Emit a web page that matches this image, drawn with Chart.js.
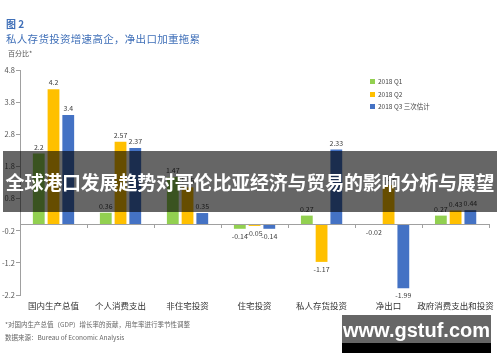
<!DOCTYPE html>
<html>
<head>
<meta charset="utf-8">
<script src="https://cdn.jsdelivr.net/npm/chart.js@4.4.1/dist/chart.umd.min.js"></script>
<style>
  html,body{margin:0;padding:0;background:#fff;}
  #wrap{position:relative;width:500px;height:362px;overflow:hidden;font-family:"Noto Sans CJK SC","Noto Sans",sans-serif;}
  #chart{position:absolute;left:0;top:0;}
  .t1{position:absolute;left:6px;top:16px;font-size:10px;font-weight:bold;color:#3f6fb8;}
  .t2{position:absolute;left:6px;top:31px;font-size:10.5px;color:#3f6fb8;letter-spacing:0.3px;}
  .t3{position:absolute;left:8px;top:48px;font-size:7px;color:#555;}
  .note{position:absolute;left:5px;font-size:6.5px;color:#666;}
  #legend{position:absolute;left:370px;top:75px;font-size:6.5px;color:#444;}
  #legend div{height:12.5px;line-height:12px;white-space:nowrap;}
  #legend span{display:inline-block;width:5px;height:5px;margin-right:3px;vertical-align:0px;}
  #banner{position:absolute;left:3px;top:151px;width:494px;height:61px;background:rgba(0,0,0,0.6);color:#fff;
    font-weight:bold;font-size:19px;line-height:61px;text-align:center;white-space:nowrap;letter-spacing:-0.2px;}
  #wm{position:absolute;left:342px;top:315px;width:149px;height:28px;background:#666;color:#fff;font-family:"Liberation Sans",Arial,sans-serif;
    font-weight:bold;font-size:20px;line-height:31px;text-align:center;white-space:nowrap;}
  #wm2{position:absolute;left:342px;top:343px;width:149px;height:10px;background:#000;}
</style>
</head>
<body>
<div id="wrap">
  <canvas id="chart" width="500" height="362"></canvas>
  <div class="t1">图 2</div>
  <div class="t2">私人存货投资增速高企，净出口加重拖累</div>
  <div class="t3">百分比*</div>
  <div id="legend"></div>
  <div class="note" style="top:319px;">*对国内生产总值（GDP）增长率的贡献，用年率进行季节性调整</div>
  <div class="note" style="top:332px;">数据来源：Bureau of Economic Analysis</div>
  <div id="banner">全球港口发展趋势对哥伦比亚经济与贸易的影响分析与展望</div>
  <div id="wm">www.gstuf.com</div>
  <div id="wm2"></div>
</div>
<script>
const categories = ["国内生产总值","个人消费支出","非住宅投资","住宅投资","私人存货投资","净出口","政府消费支出和投资"];
const seriesNames = ["2018 Q1","2018 Q2","2018 Q3 三次估计"];
const q1 = [2.2, 0.36, 1.47, -0.14, 0.27, -0.02, 0.27];
const q2 = [4.2, 2.57, 1.15, -0.05, -1.17, 1.22, 0.43];
const q3 = [3.4, 2.37, 0.35, -0.14, 2.33, -1.99, 0.44];
const colors = ["#92d050","#ffc000","#4472c4"];
const yTicks = [-2.2, -1.2, -0.2, 0.8, 1.8, 2.8, 3.8, 4.8];

const FONT = '"Noto Sans CJK SC","Noto Sans",sans-serif';

// legend
document.getElementById("legend").innerHTML = seriesNames.map((n,i)=>
  `<div><span style="background:${colors[i]}"></span>${n}</div>`).join("");

// zero line, category ticks and value labels
const extras = {
  id:"extras",
  afterDatasetsDraw(chart){
    const {ctx, chartArea, scales} = chart;
    const y0 = scales.y.getPixelForValue(0);
    ctx.save();
    ctx.strokeStyle = "#a0a0a0";
    ctx.lineWidth = 1;
    ctx.beginPath();
    ctx.moveTo(chartArea.left, Math.round(y0)+0.5);
    ctx.lineTo(chartArea.right, Math.round(y0)+0.5);
    const step = (chartArea.right - chartArea.left) / categories.length;
    for(let i=1;i<=categories.length;i++){
      const x = Math.round(chartArea.left + step*i) + 0.5;
      ctx.moveTo(x, Math.round(y0));
      ctx.lineTo(x, Math.round(y0)+4);
    }
    ctx.stroke();

    ctx.font = "7px " + FONT;
    ctx.fillStyle = "#404040";
    ctx.textAlign = "center";
    chart.data.datasets.forEach((ds,di)=>{
      chart.getDatasetMeta(di).data.forEach((bar,i)=>{
        const v = ds.data[i];
        if(v >= 0){
          ctx.textBaseline = "bottom";
          ctx.fillText(String(v), bar.x, bar.y - 3);
        } else {
          ctx.textBaseline = "top";
          ctx.fillText(String(v), bar.x, bar.y + 4);
        }
      });
    });
    ctx.restore();
  }
};

new Chart(document.getElementById("chart"),{
  type:"bar",
  data:{
    labels:categories,
    datasets:[q1,q2,q3].map((d,i)=>({
      label:seriesNames[i],
      data:d,
      backgroundColor:colors[i],
      categoryPercentage:0.66,
      barPercentage:0.8
    }))
  },
  options:{
    responsive:false,
    animation:false,
    devicePixelRatio:1,
    layout:{padding:{top:70, right:2, left:0, bottom:0}},
    plugins:{legend:{display:false}, tooltip:{enabled:false}},
    scales:{
      x:{
        grid:{display:false, drawTicks:false},
        border:{display:false},
        ticks:{font:{size:8.5, family:FONT}, color:"#333", padding:6, maxRotation:0, autoSkip:false},
        afterFit(s){ s.height = 67; }
      },
      y:{
        min:-2.2, max:4.8,
        afterBuildTicks(s){ s.ticks = yTicks.map(v=>({value:v})); },
        grid:{drawOnChartArea:false, tickLength:4, color:"#a0a0a0"},
        border:{color:"#a0a0a0"},
        ticks:{font:{size:7.5, family:FONT}, color:"#555", padding:1,
          callback:v=>v.toFixed(1)},
        afterFit(s){ s.width = 20; }
      }
    }
  },
  plugins:[extras]
});
</script>
</body>
</html>
